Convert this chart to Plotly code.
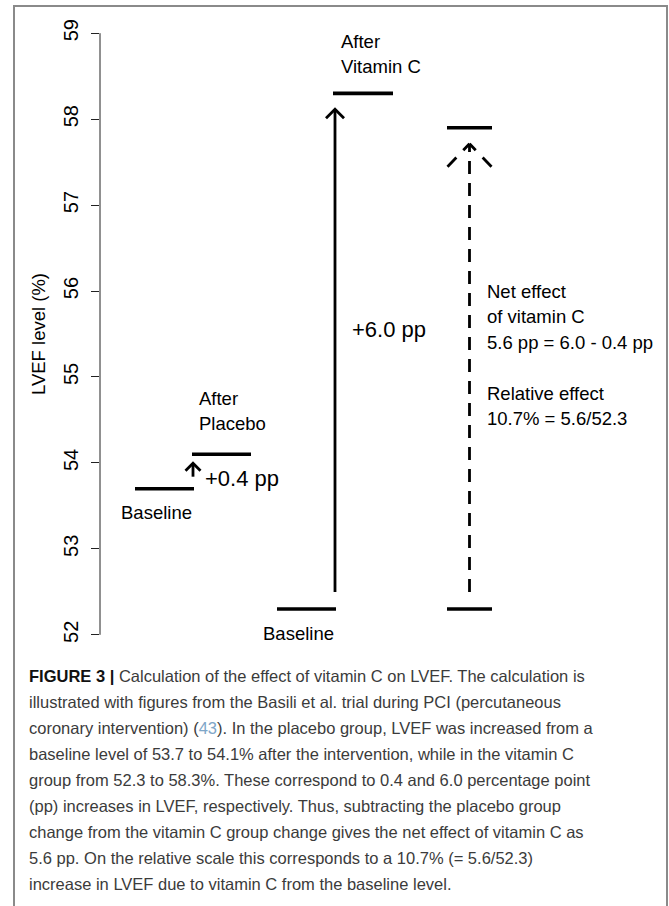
import plotly.graph_objects as go

# ---------------- data ----------------
placebo_levels = [53.7, 54.1]        # baseline, after placebo
vitaminc_levels = [52.3, 58.3]       # baseline, after vitamin C
net_levels = [52.3, 57.9]            # baseline, baseline + net effect (5.6 pp)
y_ticks = [52, 53, 54, 55, 56, 57, 58, 59]
y_tick_labels = ["52", "53", "54", "55", "56", "57", "58", "59"]
y_title = "LVEF level (%)"
placebo_change_label = "+0.4 pp"
vitaminc_change_label = "+6.0 pp"
placebo_after_label = ["After", "Placebo"]
vitaminc_after_label = ["After", "Vitamin C"]
baseline_label = "Baseline"
net_label = ["Net effect", "of vitamin C", "5.6 pp = 6.0 - 0.4 pp", "",
             "Relative effect", "10.7% = 5.6/52.3"]
caption_lines = [
    "<span style='color:#111111'><b>FIGURE 3 |</b></span> Calculation of the effect of vitamin C on LVEF. The calculation is",
    "illustrated with figures from the Basili et al. trial during PCI (percutaneous",
    "coronary intervention) (<span style='color:#7ea6c8'>43</span>). In the placebo group, LVEF was increased from a",
    "baseline level of 53.7 to 54.1% after the intervention, while in the vitamin C",
    "group from 52.3 to 58.3%. These correspond to 0.4 and 6.0 percentage point",
    "(pp) increases in LVEF, respectively. Thus, subtracting the placebo group",
    "change from the vitamin C group change gives the net effect of vitamin C as",
    "5.6 pp. On the relative scale this corresponds to a 10.7% (= 5.6/52.3)",
    "increase in LVEF due to vitamin C from the baseline level.",
]

# ---------------- layout / style constants ----------------
W, H = 669, 906
ML, MT = 100, 16
PW, PH = 560, 636
MR, MB = W - ML - PW, H - MT - PH
Y_RANGE = [51.8, 59.2]
X_RANGE = [0, PW]                      # x axis in pixel-like units
PXU = PH / (Y_RANGE[1] - Y_RANGE[0])   # pixels per LVEF unit


def dy(px):
    return px / PXU


FONT = "Liberation Sans, Arial, sans-serif"
BLACK = "#000000"
LEVEL_W = 3.6
ARROW_W = 2.8

# horizontal positions of the groups (x units = pixels from plot left)
POS = {
    "placebo_base": (35, 94), "placebo_after": (92, 151), "placebo_arrow": 93,
    "vit_base": (177, 236), "vit_after": (233, 293), "vit_arrow": 235,
    "net_base": (347, 392), "net_top": (347, 392), "net_arrow": 369.5,
}

fig = go.Figure()


def add_level(xr, level):
    fig.add_trace(go.Scatter(x=[xr[0], xr[1]], y=[level, level], mode="lines",
                             line=dict(color=BLACK, width=LEVEL_W),
                             hoverinfo="skip", showlegend=False))


def add_arrow(x, y0, y1, gap0, gap1, hw, depth, dash=None, head_dash=None):
    ys, ye = y0 + dy(gap0), y1 - dy(gap1)
    fig.add_trace(go.Scatter(x=[x, x], y=[ys, ye], mode="lines",
                             line=dict(color=BLACK, width=ARROW_W, dash=dash or "solid"),
                             hoverinfo="skip", showlegend=False))
    if head_dash is None:
        fig.add_trace(go.Scatter(x=[x - hw, x, x + hw], y=[ye - dy(depth), ye, ye - dy(depth)],
                                 mode="lines", line=dict(color=BLACK, width=ARROW_W),
                                 hoverinfo="skip", showlegend=False))
    else:
        for s in (-1, 1):
            fig.add_trace(go.Scatter(x=[x, x + s * hw], y=[ye, ye - dy(depth)], mode="lines",
                                     line=dict(color=BLACK, width=ARROW_W, dash=head_dash),
                                     hoverinfo="skip", showlegend=False))


# placebo group
add_level(POS["placebo_base"], placebo_levels[0])
add_level(POS["placebo_after"], placebo_levels[1])
add_arrow(POS["placebo_arrow"], placebo_levels[0], placebo_levels[1], 12, 9, 7.5, 7.5)

# vitamin C group
add_level(POS["vit_base"], vitaminc_levels[0])
add_level(POS["vit_after"], vitaminc_levels[1])
add_arrow(POS["vit_arrow"], vitaminc_levels[0], vitaminc_levels[1], 17, 16, 9, 9)

# net effect
add_level(POS["net_base"], net_levels[0])
add_level(POS["net_top"], net_levels[1])
add_arrow(POS["net_arrow"], net_levels[0], net_levels[1], 17, 16, 22, 23,
          dash="13px,9px", head_dash="9px,10px,13px")


def add_text(x, y, lines, size=18.5, yshift0=0, spacing=25.5, xanchor="left"):
    for i, line in enumerate(lines):
        if not line:
            continue
        fig.add_annotation(x=x, y=y, text=line, showarrow=False, xanchor=xanchor,
                           yanchor="middle", yshift=yshift0 - i * spacing,
                           font=dict(family=FONT, size=size, color=BLACK))


add_text(19, placebo_levels[0], [baseline_label], yshift0=-24)
add_text(97, placebo_levels[1], placebo_after_label, yshift0=56)
add_text(103, sum(placebo_levels) / 2, [placebo_change_label], size=22, yshift0=-7)
add_text(239, vitaminc_levels[1], vitaminc_after_label, yshift0=52)
add_text(250, sum(vitaminc_levels) / 2, [vitaminc_change_label], size=22, yshift0=22)
add_text(161, vitaminc_levels[0], [baseline_label], yshift0=-24)
add_text(385, 56.0, net_label)


def px_to_paper_x(px):
    return (px - ML) / PW


def px_to_paper_y(py):
    return (MT + PH - py) / PH


# y axis title (rotated, centred on the tick span)
fig.add_annotation(xref="paper", yref="y", x=px_to_paper_x(38), y=sum(y_ticks[::len(y_ticks) - 1]) / 2,
                   text=y_title, textangle=-90, showarrow=False, xanchor="center", yanchor="middle",
                   font=dict(family=FONT, size=18.5, color=BLACK))

# caption
for i, line in enumerate(caption_lines):
    fig.add_annotation(xref="paper", yref="paper", x=px_to_paper_x(27),
                       y=px_to_paper_y(676 + 26 * i),
                       text=line, showarrow=False, xanchor="left", yanchor="middle",
                       font=dict(family=FONT, size=16.5, color="#3b3b3b"))

# y axis line (only spanning tick range, R style)
fig.add_shape(type="line", xref="paper", yref="y", x0=0, x1=0, y0=y_ticks[0], y1=y_ticks[-1],
              line=dict(color="#222222", width=1))

# outer frame
fig.add_shape(type="rect", xref="paper", yref="paper",
              x0=px_to_paper_x(14), x1=px_to_paper_x(667),
              y0=px_to_paper_y(915), y1=px_to_paper_y(6),
              line=dict(color="#8a8a8a", width=2), fillcolor="rgba(0,0,0,0)")

fig.update_layout(
    width=W, height=H,
    margin=dict(l=ML, r=MR, t=MT, b=MB, autoexpand=False),
    paper_bgcolor="white", plot_bgcolor="white",
    showlegend=False,
    xaxis=dict(range=X_RANGE, visible=False, fixedrange=True),
    yaxis=dict(range=Y_RANGE, tickmode="array", tickvals=y_ticks, ticktext=y_tick_labels,
               tickangle=-90, ticks="outside", ticklen=8, tickwidth=1, tickcolor="#222222",
               ticklabelstandoff=5,
               showgrid=False, zeroline=False, showline=False,
               tickfont=dict(family=FONT, size=20, color=BLACK),
               automargin=False, fixedrange=True),
)

fig.write_html("out.html", config={"displayModeBar": False},
               post_script="document.body.style.margin='0px';")
